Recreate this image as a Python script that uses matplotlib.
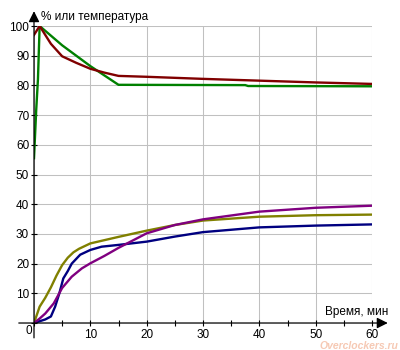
import matplotlib
matplotlib.use('Agg')
import matplotlib.pyplot as plt
from matplotlib.ticker import MultipleLocator

plt.rcParams['font.family'] = ['Liberation Sans', 'DejaVu Sans']
plt.rcParams['font.size'] = 8.5

# Curves: time (min) and values (% or temperature)
t_green = [0, 0.4, 0.7, 1, 5, 10, 15, 37.5, 38, 60]
v_green = [55.5, 72, 82, 100, 93.5, 86.5, 80.2, 80.1, 79.8, 79.7]

t_red = [0, 0.5, 1, 3, 5, 7.5, 10, 12.5, 15, 20, 30, 40, 50, 60]
v_red = [97, 98.5, 100, 94, 89.8, 87.6, 85.6, 84.3, 83.2, 82.9, 82.2, 81.6, 81.0, 80.5]

t_olive = [0, 1, 2, 3, 4, 5, 6, 7, 8, 10, 12.5, 15, 20, 25, 30, 40, 50, 60]
v_olive = [0, 5.5, 8.5, 12, 16, 19.5, 22, 23.8, 25, 26.8, 27.9, 29, 31.1, 33, 34.5, 35.8, 36.3, 36.5]

t_navy = [0, 1, 2, 3, 3.75, 4.5, 5.2, 6, 6.7, 8.2, 10, 12, 15, 20, 25, 30, 40, 50, 60]
v_navy = [0, 0.6, 1.2, 2.2, 5.5, 10, 15, 17.5, 20, 23, 24.6, 25.7, 26.3, 27.4, 29.1, 30.6, 32.2, 32.8, 33.2]

t_purple = [0, 1, 2, 3.5, 5, 6.7, 8.5, 10, 12.5, 15, 20, 25, 30, 40, 50, 60]
v_purple = [0, 1.5, 3.2, 6.6, 11.8, 15.6, 18.4, 20.1, 22.6, 25.3, 30.2, 33, 34.9, 37.5, 38.8, 39.5]

fig = plt.figure(figsize=(4, 3.5), dpi=100)
ax = fig.add_axes([0.085, 0.0771, 0.845, 0.8486])

ax.plot(t_olive, v_olive, color='#808000', lw=1.7)
ax.plot(t_navy, v_navy, color='#000080', lw=1.7)
ax.plot(t_purple, v_purple, color='#800080', lw=1.7)
ax.plot(t_green, v_green, color='#008000', lw=1.7)
ax.plot(t_red, v_red, color='#800000', lw=1.7)

ax.set_xlim(0, 60)
ax.set_ylim(0, 100)
for s in ax.spines.values():
    s.set_visible(False)

ax.xaxis.set_major_locator(MultipleLocator(10))
ax.xaxis.set_minor_locator(MultipleLocator(5))
ax.yaxis.set_major_locator(MultipleLocator(10))
ax.grid(True, color='#c0c0c0', lw=0.75)
ax.set_axisbelow(True)
ax.tick_params(which='both', direction='inout', length=5, width=0.8, color='k')
ax.tick_params(axis='x', pad=2)
ax.tick_params(axis='y', pad=1)

ax.set_xticklabels(['' if v == 0 else str(int(v)) for v in ax.get_xticks()])
ax.set_yticklabels(['' if v == 0 else str(int(v)) for v in ax.get_yticks()])
ax.text(-0.4, -0.8, '0', ha='right', va='top')

# axis lines with arrowheads
arrow = dict(arrowstyle='-|>,head_length=0.5,head_width=0.25', color='k', lw=0.9,
             mutation_scale=13, shrinkA=0, shrinkB=0)
ax.annotate('', xy=(62.8, 0), xytext=(-2.7, 0), arrowprops=arrow, annotation_clip=False)
ax.annotate('', xy=(0, 105), xytext=(0, -5), arrowprops=arrow, annotation_clip=False)

fig.text(41 / 400, 1 - 17 / 350, '% или температура', ha='left', va='center')
fig.text(388 / 400, 1 - 312 / 350, 'Время, мин', ha='right', va='center')
fig.text(398 / 400, 1 - 346 / 350, 'Overclockers.ru', ha='right', va='center',
         color='#f6c9b4', fontsize=7.5, fontweight='bold', fontstyle='italic')

fig.savefig('out.png', dpi=100)
